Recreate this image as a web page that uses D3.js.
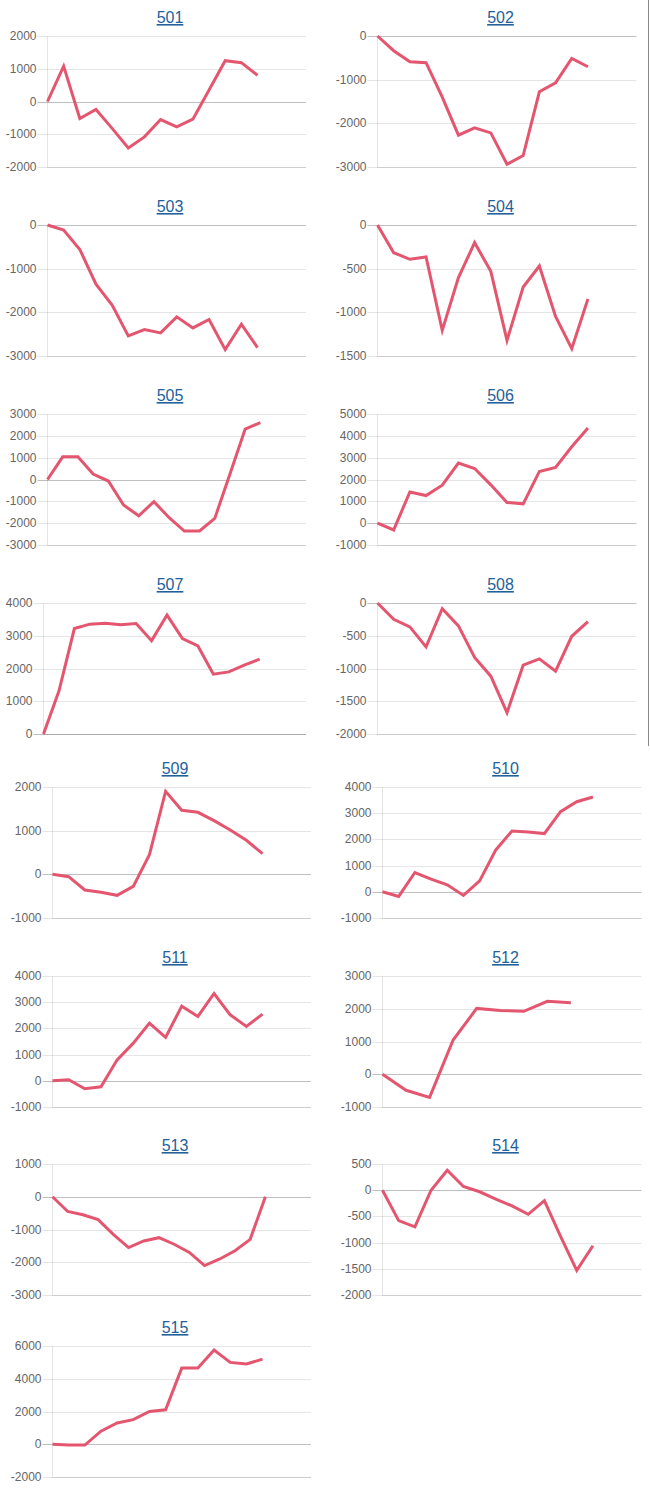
<!DOCTYPE html>
<html><head><meta charset="utf-8">
<script src="https://cdn.jsdelivr.net/npm/d3@7"></script>
<style>body{margin:0;background:#fff}svg{display:block}</style>
</head><body>
<svg id="c" width="650" height="1490"></svg>
<script>
const titles = ["501","502","503","504","505","506","507","508","509","510","511","512","513","514","515"];

const v501 = [0,1080,-520,-245,-820,-1420,-1080,-550,-775,-540,350,1245,1185,800];
const v502 = [0,-337,-590,-612,-1400,-2272,-2104,-2219,-2938,-2739,-1278,-1071,-513,-704];
const v503 = [0,-115,-560,-1354,-1836,-2540,-2395,-2471,-2104,-2357,-2165,-2854,-2272,-2808];
const v504 = [0,-317,-393,-366,-1206,-603,-202,-531,-1321,-710,-470,-1046,-1416,-847];
const v505 = [0,1040,1040,250,-70,-1170,-1660,-1015,-1750,-2360,-2360,-1780,250,2313,2603];
const v506 = [0,-310,1430,1265,1740,2750,2505,1755,945,884,2370,2553,3500,4360];
const v507 = [0,1313,3220,3354,3385,3333,3374,2851,3631,2913,2687,1826,1897,2100,2287];
const v508 = [0,-249,-365,-670,-86,-350,-832,-1117,-1675,-949,-853,-1041,-508,-284];
const v509 = [0,-53,-359,-412,-481,-275,450,1901,1466,1420,1229,1015,779,473];
const v510 = [0,-178,736,482,266,-140,419,1599,2322,2284,2221,3058,3439,3617];
const v511 = [0,40,-305,-229,800,1437,2200,1654,2850,2455,3333,2519,2074,2545];
const v512 = [0,-490,-705,1045,2010,1950,1921,2226,2185];
const v513 = [0,-450,-550,-700,-1150,-1550,-1350,-1250,-1450,-1700,-2100,-1900,-1650,-1300,0];
const v514 = [0,-580,-700,0,380,70,-30,-170,-300,-460,-200,-880,-1530,-1060];
const v515 = [0,-50,-50,800,1300,1500,2000,2100,4650,4650,5750,5000,4900,5200];

const t501 = [2000,1000,0,-1000,-2000];
const t502 = [0,-1000,-2000,-3000];
const t503 = [0,-1000,-2000,-3000];
const t504 = [0,-500,-1000,-1500];
const t505 = [3000,2000,1000,0,-1000,-2000,-3000];
const t506 = [5000,4000,3000,2000,1000,0,-1000];
const t507 = [4000,3000,2000,1000,0];
const t508 = [0,-500,-1000,-1500,-2000];
const t509 = [2000,1000,0,-1000];
const t510 = [4000,3000,2000,1000,0,-1000];
const t511 = [4000,3000,2000,1000,0,-1000];
const t512 = [3000,2000,1000,0,-1000];
const t513 = [1000,0,-1000,-2000,-3000];
const t514 = [500,0,-500,-1000,-1500,-2000];
const t515 = [6000,4000,2000,0,-2000];

const seriesList = [v501,v502,v503,v504,v505,v506,v507,v508,v509,v510,v511,v512,v513,v514,v515];
const tickList = [t501,t502,t503,t504,t505,t506,t507,t508,t509,t510,t511,t512,t513,t514,t515];

const rowTop = [36,225,414,603,787,976,1164,1346];
const plotH = 131;
const lineColor = "#e4566f";
const linkColor = "#23619b";
const font = "'Liberation Sans', Arial, Helvetica, sans-serif";
const fmt = t => String(t);

const svg = d3.select("#c");

svg.append("line").attr("x1",648.5).attr("x2",648.5).attr("y1",0).attr("y2",746)
  .attr("stroke","#8a8a8a").attr("stroke-width",1);

titles.forEach((title, i) => {
  const row = Math.floor(i/2), col = i%2;
  const ox = (row >= 4 ? 5 : 0) + col*330.5;
  const top = rowTop[row], bottom = top + plotH;
  const vals = seriesList[i], ticks = tickList[i];
  const g = svg.append("g");

  const meas = g.append("g").attr("font-family", font).attr("font-size", 12);
  let maxW = 0;
  ticks.forEach(t => {
    const tx = meas.append("text").text(fmt(t));
    maxW = Math.max(maxW, tx.node().getComputedTextLength());
  });
  meas.remove();
  const left = Math.round(ox + 7 + maxW + 9) + 0.5;
  const right = ox + 306;

  const y = d3.scaleLinear().domain(d3.extent(ticks)).range([bottom, top]);
  const x = d3.scaleLinear().domain([0, vals.length + 1 + 1]).range([left, right]);

  const ax = g.append("g").attr("transform", `translate(${left},0)`)
    .call(d3.axisLeft(y).tickValues(ticks).tickFormat(fmt).tickSize(-(right-left)).tickPadding(11));
  ax.select(".domain").remove();
  ax.selectAll(".tick").attr("transform", d => `translate(0,${Math.round(y(d))+0.5})`);
  ax.selectAll(".tick line").attr("x1", -10)
    .attr("stroke", d => d === 0 ? "rgba(0,0,0,0.25)" : "rgba(0,0,0,0.1)");
  ax.selectAll(".tick text").attr("font-family", font).attr("font-size", 12).attr("fill", "#666");

  const yb = Math.round(bottom)+0.5;
  g.append("line").attr("x1", left).attr("x2", right).attr("y1", yb).attr("y2", yb)
    .attr("stroke","rgba(0,0,0,0.1)");
  g.append("line").attr("x1", left).attr("x2", left).attr("y1", Math.round(top)+0.5).attr("y2", yb)
    .attr("stroke","rgba(0,0,0,0.1)");

  g.append("path").datum(vals)
    .attr("d", d3.line().x((d,k) => x(k)).y(d => y(d)))
    .attr("fill","none").attr("stroke", lineColor).attr("stroke-width", 3);

  g.append("text").attr("x", ox + 170).attr("y", top - 13)
    .attr("text-anchor","middle").attr("font-family", font).attr("font-size", 16)
    .attr("fill", linkColor).style("text-decoration","underline").text(title);
});
</script>
</body></html>
